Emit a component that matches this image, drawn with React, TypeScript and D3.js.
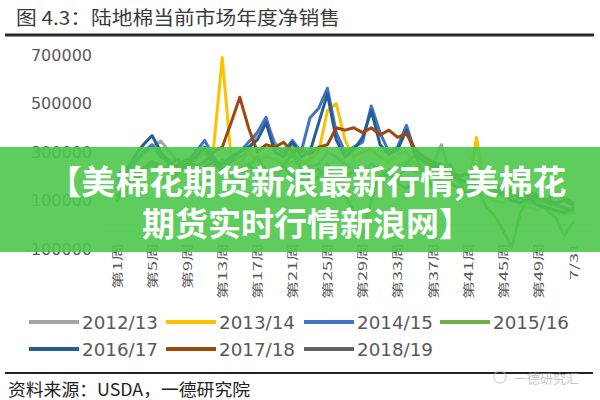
import * as d3 from "d3";

const weeks = [
  ...d3.range(1, 53).map((w) => `第${w}周`),
  "7/31",
];
const tickLabels = weeks.filter((_d, i) => i % 4 === 0);
const yTicks = [700000, 500000, 300000, 100000, -100000];

const seriesNames = ["2012/13", "2013/14", "2014/15", "2015/16", "2016/17", "2017/18", "2018/19"];
const seriesColors = ["#a5a5a5", "#ffc000", "#4472c4", "#70ad47", "#255e91", "#9e480e", "#636363"];

// values in thousand bales (middle part is hidden by the banner)
const s1213 = [180, 220, 250, 290, 320, 345, 300, 260, 230, 270, 300, 250, 230, 260, 280, 300, 380, 430, 340, 280, 300, 260, 240, 250, 300, 280, 250, 230, 220, 250, 230, 210, 240, 260, 220, 200, 250, 330, 200, 180, 150, 170, 130, 140, 120, 100, 110, 90, 80, 70, 90, 60, 50];
const s1314 = [150, 200, 240, 220, 260, 250, 230, 210, 250, 280, 300, 310, 690, 280, 250, 300, 260, 280, 270, 240, 260, 250, 270, 300, 470, 500, 350, 280, 300, 310, 280, 260, 290, 300, 250, 230, 220, 200, 240, 180, 150, 360, 120, 100, 90, 110, 80, 70, 60, 80, 50, 40, 60];
const s1415 = [160, 210, 260, 300, 330, 280, 250, 240, 260, 300, 348, 280, 230, 260, 300, 340, 380, 443, 320, 300, 348, 300, 440, 480, 563, 380, 300, 320, 340, 490, 380, 300, 320, 410, 300, 280, 260, 250, 220, 200, 210, 180, 160, 150, 130, 120, 140, 100, 110, 90, 80, 70, 60];
const s1516 = [100, 140, 180, 220, 250, 200, 160, 220, 260, 200, 150, 230, 270, 200, 180, 240, 280, 220, 180, 250, 290, 230, 170, 200, 250, 180, 120, 60, -50, 100, 200, 230, 180, 250, 290, 200, 150, 220, 250, 180, 120, 160, 80, 40, -20, -95, 50, 120, 100, 60, 30, -45, 10];
const s1617 = [150, 220, 280, 330, 368, 300, 260, 220, 250, 280, 320, 260, 250, 280, 300, 320, 350, 420, 300, 280, 340, 280, 300, 420, 540, 350, 280, 310, 360, 470, 330, 290, 310, 390, 290, 260, 240, 230, 200, 190, 170, 160, 140, 120, 130, 100, 90, 110, 80, 70, 60, 50, 70];
const s1718 = [120, 160, 200, 230, 260, 240, 220, 250, 270, 240, 260, 300, 320, 420, 526, 400, 300, 330, 320, 340, 300, 310, 290, 320, 330, 400, 390, 400, 380, 400, 370, 390, 360, 376, 310, 280, 250, 240, 220, 200, 210, 180, 170, 150, 160, 140, 130, 120, 110, 100, 90, 100, 80];
const s1819 = [200, 240, 210, 230, 260, 220, 250, 270, 230, 210, 240, 260, 220, 200, 230, 250, 210, 190, 220, 240, 200, 180, 210, 230, 190, 170, 200, 220, 180, 160, 190, 210, 170, 150, 180, 200, 160, 140, 170, 150, 130, 160, 140, 120, 150, 130, 110, 140, 120, 100, 130, 110, 90];

const seriesValues = [s1213, s1314, s1415, s1516, s1617, s1718, s1819];

export default function App() {
  const width = 600;
  const height = 400;

  const x = d3.scalePoint<string>().domain(weeks).range([117, 573]);
  const y = d3.scaleLinear().domain([-100000, 700000]).range([249, 55]);

  const line = d3
    .line<number | null>()
    .defined((d) => d != null)
    .x((_d, i) => x(weeks[i]) as number)
    .y((d) => y((d as number) * 1000));

  const legendRows = [
    [0, 1, 2, 3],
    [4, 5, 6],
  ];
  const legendX = [29, 166, 304, 440];
  const legendY = [322, 349];

  return (
    <svg
      width={width}
      height={height}
      style={{ position: "absolute", left: 0, top: 0, background: "#fff" }}
    >
      <rect width={width} height={height} fill="#fff" />

      {/* title */}
      <text
        x={16}
        y={16}
        dominantBaseline="central"
        fontFamily="Noto Sans CJK SC"
        fontSize={19}
        fill="#3a3a3a"
        textLength={324}
        lengthAdjust="spacingAndGlyphs"
      >
        图 4.3：陆地棉当前市场年度净销售
      </text>
      <line x1={5} x2={594} y1={35} y2={35} stroke="#2b2b2b" strokeWidth={3} />

      {/* y axis labels */}
      <g fontFamily="DejaVu Sans" fontSize={16} fill="#595959" textAnchor="end">
        {yTicks.map((t) => (
          <text key={t} x={92} y={y(t)} dominantBaseline="central">
            {t}
          </text>
        ))}
      </g>

      {/* zero line */}
      <line x1={104} x2={590} y1={y(0)} y2={y(0)} stroke="#d9d9d9" strokeWidth={1} />

      {/* x labels */}
      <g fontFamily="Noto Sans CJK SC" fontSize={18} fill="#595959" textAnchor="end">
        {tickLabels.map((t) => (
          <text
            key={t}
            transform={`translate(${x(t)},243) rotate(-90) scale(1,0.62)`}
            dominantBaseline="central"
          >
            {t}
          </text>
        ))}
      </g>

      {/* lines */}
      <g fill="none" strokeWidth={3} strokeLinejoin="round" strokeLinecap="round">
        {seriesValues.map((vals, k) => (
          <path key={seriesNames[k]} d={line(vals) || ""} stroke={seriesColors[k]} />
        ))}
      </g>

      {/* legend */}
      <g fontFamily="DejaVu Sans" fontSize={18} fill="#595959">
        {legendRows.map((row, r) =>
          row.map((k, j) => (
            <g key={seriesNames[k]}>
              <line
                x1={legendX[j]}
                x2={legendX[j] + 50}
                y1={legendY[r]}
                y2={legendY[r]}
                stroke={seriesColors[k]}
                strokeWidth={4}
              />
              <text
                x={legendX[j] + 53}
                y={legendY[r]}
                dominantBaseline="central"
                textLength={76}
                lengthAdjust="spacingAndGlyphs"
              >
                {seriesNames[k]}
              </text>
            </g>
          ))
        )}
      </g>

      {/* footer */}
      <line x1={5} x2={593} y1={373} y2={373} stroke="#222" strokeWidth={2} />
      <text
        x={8}
        y={388}
        dominantBaseline="central"
        fontFamily="Noto Sans CJK SC"
        fontSize={17}
        fill="#222"
        textLength={242}
        lengthAdjust="spacingAndGlyphs"
      >
        资料来源：USDA，一德研究院
      </text>
      <g opacity={0.55}>
        <circle cx={500} cy={377} r={6} fill="none" stroke="#bbb" strokeWidth={1.5} />
        <text
          x={514}
          y={377}
          dominantBaseline="central"
          fontFamily="Noto Sans CJK SC"
          fontSize={13}
          fill="#999"
        >
          一德研究汇
        </text>
      </g>

      {/* banner overlay */}
      <rect x={0} y={147} width={width} height={105} fill="#4cc84c" opacity={0.9} />
      <g
        fontFamily="Noto Sans CJK SC"
        fontWeight="bold"
        fontSize={33}
        fill="#fff"
        textAnchor="middle"
      >
        <text
          x={307}
          y={180}
          dominantBaseline="central"
          textLength={519}
          lengthAdjust="spacingAndGlyphs"
        >
          【美棉花期货新浪最新行情,美棉花
        </text>
        <text
          x={307}
          y={222}
          dominantBaseline="central"
          textLength={330}
          lengthAdjust="spacingAndGlyphs"
        >
          期货实时行情新浪网】
        </text>
      </g>
    </svg>
  );
}
